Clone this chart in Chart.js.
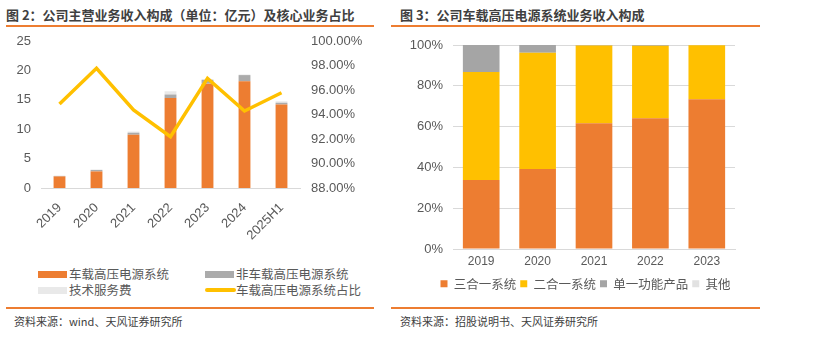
<!DOCTYPE html>
<html>
<head>
<meta charset="utf-8">
<script src="https://cdn.jsdelivr.net/npm/chart.js@4.4.1/dist/chart.umd.min.js"></script>
<style>
  html, body { margin: 0; padding: 0; background: #fff; }
  body { width: 823px; height: 345px; position: relative; overflow: hidden;
         font-family: "Liberation Sans", "Noto Sans CJK SC", sans-serif; color: #404040; }
  .title { position: absolute; top: 6px; font-size: 13px; font-weight: bold; color: #404040;
           font-family: "Noto Sans CJK SC", sans-serif; white-space: nowrap; line-height: 18px; }
  .rule { position: absolute; height: 2px; background: #ED7D31; }
  .source { position: absolute; top: 313px; font-size: 11px; color: #404040;
            font-family: "Noto Sans CJK SC", sans-serif; white-space: nowrap; line-height: 16px; }
  .wrap { position: absolute; }
  .lg { position: absolute; font-size: 12.5px; color: #595959; font-family: "Noto Sans CJK SC", sans-serif;
        white-space: nowrap; line-height: 16px; }
  .lg i { position: absolute; left: -31px; }
</style>
</head>
<body>
<div class="title" style="left:6px">图 2：公司主营业务收入构成（单位：亿元）及核心业务占比</div>
<div class="rule" style="left:6px; width:368px; top:25px"></div>
<div class="wrap" style="left:0; top:30px; width:380px; height:220px"><canvas id="c1"></canvas></div>
<div id="legend1"></div>
<div class="rule" style="left:6px; width:368px; top:307px"></div>
<div class="source" style="left:14px">资料来源：wind、天风证券研究所</div>

<div class="title" style="left:400px">图 3：公司车载高压电源系统业务收入构成</div>
<div class="rule" style="left:391px; width:369px; top:25px"></div>
<div class="wrap" style="left:400px; top:28px; width:360px; height:272px"><canvas id="c2"></canvas></div>
<div class="rule" style="left:391px; width:369px; top:307px"></div>
<div class="source" style="left:400px">资料来源：招股说明书、天风证券研究所</div>

<script>
// 图2 data (亿元, %)
const years1 = ['2019', '2020', '2021', '2022', '2023', '2024', '2025H1'];
const vehicleHv = [1.97, 2.82, 9.06, 15.3, 17.75, 18.15, 14.2];
const nonVehicleHv = [0.08, 0.24, 0.34, 0.6, 0.65, 1.05, 0.3];
const techService = [0.05, 0.09, 0.2, 0.55, 0.1, 0.1, 0.25];
const vehicleShare = [94.86, 97.77, 94.37, 92.19, 96.95, 94.29, 95.78];

// 图3 data (%)
const years2 = ['2019', '2020', '2021', '2022', '2023'];
const threeInOne = [33.9, 39.2, 61.7, 64.1, 73.4];
const twoInOne = [52.9, 57.0, 38.0, 35.5, 26.5];
const singleFunc = [13.2, 3.8, 0.3, 0.4, 0.1];
const others = [0, 0, 0, 0, 0];

const ORANGE = '#ED7D31', YELLOW = '#FFC000', GRAY = '#ABABAB', LIGHT = '#E9E9E9';
const tickColor = '#595959';
const NONE = 'rgba(0,0,0,0)';

Chart.defaults.animation = false;
Chart.defaults.font.family = '"Liberation Sans", "Noto Sans CJK SC", sans-serif';

const ds1 = [
  { type: 'line', label: '车载高压电源系统占比', data: vehicleShare, yAxisID: 'y1', order: 0,
    borderColor: YELLOW, backgroundColor: YELLOW, borderWidth: 3.5, pointRadius: 0, tension: 0 },
  { label: '车载高压电源系统', data: vehicleHv, backgroundColor: ORANGE, stack: 's', order: 1 },
  { label: '非车载高压电源系统', data: nonVehicleHv, backgroundColor: GRAY, stack: 's', order: 1 },
  { label: '技术服务费', data: techService, backgroundColor: LIGHT, stack: 's', order: 1 }
];

new Chart(document.getElementById('c1'), {
  type: 'bar',
  data: { labels: years1, datasets: ds1 },
  options: {
    responsive: true,
    maintainAspectRatio: false,
    layout: { padding: { top: 11, left: 0, right: 0, bottom: 0 } },
    datasets: { bar: { categoryPercentage: 1, barPercentage: 0.32 } },
    plugins: { legend: { display: false }, tooltip: { enabled: false } },
    scales: {
      x: {
        stacked: true,
        grid: { display: false },
        border: { color: '#D9D9D9' },
        ticks: { color: tickColor, font: { size: 13 }, minRotation: 45, maxRotation: 45, padding: 4 },
        afterFit: s => { s.height = 62; }
      },
      y: {
        stacked: true, min: 0, max: 25,
        grid: { display: false, drawTicks: true, tickLength: 10 },
        border: { display: false },
        ticks: { stepSize: 5, color: tickColor, font: { size: 13 }, padding: 0 },
        afterFit: s => { s.width = 41; }
      },
      y1: {
        position: 'right', min: 88, max: 100,
        grid: { display: false, drawTicks: true, tickLength: 11 },
        border: { display: false },
        ticks: { stepSize: 2, color: tickColor, font: { size: 13 }, padding: 0,
                 callback: v => v.toFixed(2) + '%' },
        afterFit: s => { s.width = 80; }
      }
    }
  }
});

// HTML legend for 图2 (2 x 2 grid)
const lgPos = [[69, 266], [236, 266], [69, 282], [236, 282]];
const lgItems = [ds1[1], ds1[2], ds1[3], ds1[0]];
document.getElementById('legend1').innerHTML = lgItems.map((d, i) => {
  const mark = d.type === 'line'
    ? `<i style="top:6px; width:31px; height:3.5px; background:${d.borderColor}; border-radius:2px"></i>`
    : `<i style="top:5px; width:29px; height:7px; background:${d.backgroundColor}"></i>`;
  return `<div class="lg" style="left:${lgPos[i][0]}px; top:${lgPos[i][1]}px">${mark}${d.label}</div>`;
}).join('');

// nudge the bottom legend so it centres where the reference has it
const legendOffset = {
  id: 'legendOffset',
  afterLayout(chart) {
    if (chart.legend) { chart.legend.left += 18; chart.legend.right += 18; }
  }
};

new Chart(document.getElementById('c2'), {
  type: 'bar',
  data: {
    labels: years2,
    datasets: [
      { label: '三合一系统', data: threeInOne, backgroundColor: ORANGE },
      { label: '二合一系统', data: twoInOne, backgroundColor: YELLOW },
      { label: '单一功能产品', data: singleFunc, backgroundColor: '#A5A5A5' },
      { label: '其他', data: others, backgroundColor: '#E2E2E2' }
    ]
  },
  plugins: [legendOffset],
  options: {
    responsive: true,
    maintainAspectRatio: false,
    layout: { padding: { top: 17, left: 0, right: 25, bottom: 0 } },
    datasets: { bar: { categoryPercentage: 1, barPercentage: 0.65 } },
    plugins: {
      tooltip: { enabled: false },
      legend: {
        position: 'bottom',
        labels: { boxWidth: 7, boxHeight: 7, padding: 4, color: tickColor,
                  font: { size: 12.5, family: '"Noto Sans CJK SC", sans-serif' } }
      }
    },
    scales: {
      x: {
        stacked: true,
        grid: { display: false, drawTicks: false },
        border: { color: '#D9D9D9' },
        ticks: { color: tickColor, font: { size: 12 }, padding: 5 }
      },
      y: {
        stacked: true, min: 0, max: 100,
        grid: { color: '#D9D9D9', drawTicks: true, tickLength: 10, tickColor: NONE },
        border: { display: false },
        ticks: { stepSize: 20, color: tickColor, font: { size: 13 }, padding: 0,
                 callback: v => v + '%' },
        afterFit: s => { s.width = 53; }
      }
    }
  }
});
</script>
</body>
</html>
